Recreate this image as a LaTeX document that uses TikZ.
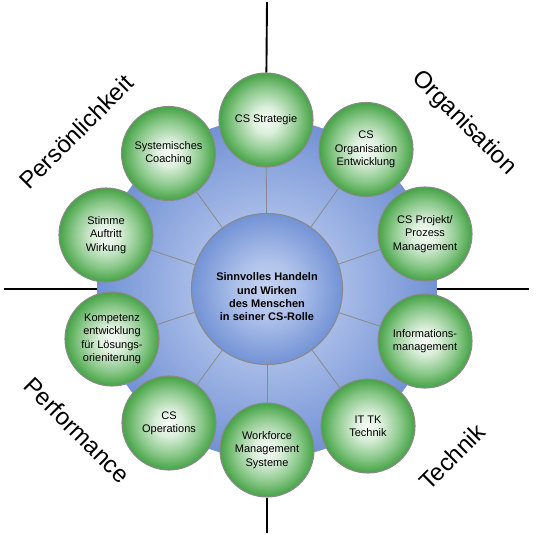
\documentclass[tikz,border=0pt]{standalone}
\usepackage{fontspec}
\setmainfont{Liberation Sans}
\definecolor{gC}{HTML}{F6FBF6}
\definecolor{gM1}{HTML}{DCEFDC}
\definecolor{gM2}{HTML}{8CC98C}
\definecolor{gE}{HTML}{45A345}
\definecolor{bDiskIn}{HTML}{C2D1F1}
\definecolor{bDiskMid}{HTML}{A7BBE7}
\definecolor{bDiskOut}{HTML}{7292D5}
\definecolor{bCenIn}{HTML}{C6D4F2}
\definecolor{bCenOut}{HTML}{7393D6}
\definecolor{rim}{HTML}{8A8A8A}
\pgfdeclareradialshading{greenball}{\pgfpointorigin}{color(0bp)=(gC); color(7bp)=(gM1); color(17bp)=(gM2); color(25bp)=(gE); color(50bp)=(gE)}
\pgfdeclareradialshading{diskshade}{\pgfpointorigin}{color(0bp)=(bDiskIn); color(11bp)=(bDiskMid); color(25bp)=(bDiskOut); color(50bp)=(bDiskOut)}
\pgfdeclareradialshading{censhade}{\pgfpointorigin}{color(0bp)=(bCenIn); color(9bp)=(bCenIn!75!bCenOut); color(25bp)=(bCenOut); color(50bp)=(bCenOut)}
\begin{document}
\begin{tikzpicture}[x=1pt,y=-1pt,
  sat/.style={circle, minimum size=94pt, inner sep=0pt, draw=rim, line width=1.1pt,
    shade, shading=greenball, align=center, font=\fontsize{11}{13.3}\selectfont},
  diskstyle/.style={circle, minimum size=340pt, inner sep=0pt, shade, shading=diskshade},
  censtyle/.style={circle, minimum size=151pt, inner sep=0pt, draw=rim, line width=1.1pt, shade, shading=censhade},
  centext/.style={align=center, inner sep=0pt, font=\bfseries\fontsize{11}{13.3}\selectfont},
  spoke/.style={draw=rim, line width=0.8pt},
  axisline/.style={draw=black, line width=1.9pt},
  corner/.style={font=\fontsize{24}{28}\selectfont, inner sep=0pt}]
\useasboundingbox (0,0) rectangle (541,535);

\node[diskstyle] (disk) at (267,289) {};
\node[censtyle] (cen) at (267,289) {};
\node[centext] (ctext) at (267,297) {Sinnvolles Handeln\\und Wirken\\des Menschen\\in seiner CS-Rolle};

\node[sat] (s1) at (266,120) {CS Strategie};
\node[sat] (s2) at (366,149.5) {CS\\Organisation\\Entwicklung};
\node[sat] (s3) at (425,234) {CS Projekt/\\Prozess\\Management};
\node[sat] (s4) at (425,341) {Informations-\\management};
\node[sat] (s5) at (368,426) {IT TK\\Technik};
\node[sat] (s6) at (267,450) {Workforce\\Management\\Systeme};
\node[sat] (s7) at (169,423) {CS\\Operations};
\node[sat] (s8) at (112,339) {Kompetenz\\entwicklung\\für Lösungs-\\orieniterung};
\node[sat] (s9) at (106,235) {Stimme\\Auftritt\\Wirkung};
\node[sat] (s10) at (168.5,153.5) {Systemisches\\Coaching};

\foreach \s in {s1,s2,s3,s4,s5,s6,s7,s8,s9,s10}
  \draw[spoke] (cen) -- (\s);

\coordinate (topend) at (267,2);
\coordinate (botend) at (267,533);
\coordinate (leftend) at (4,289);
\coordinate (rightend) at (529,289);
\draw[axisline] (topend) -- (s1);
\draw[axisline] (botend) -- (s6);
\draw[axisline] (leftend) -- (disk);
\draw[axisline] (rightend) -- (disk);

\node[corner, rotate=45] (lp) at (76,132) {Persönlichkeit};
\node[corner, rotate=-45] (lo) at (464,123) {Organisation};
\node[corner, rotate=-45] (lf) at (77,430) {Performance};
\node[corner, rotate=45] (lt) at (452,457) {Technik};
\end{tikzpicture}
\end{document}
